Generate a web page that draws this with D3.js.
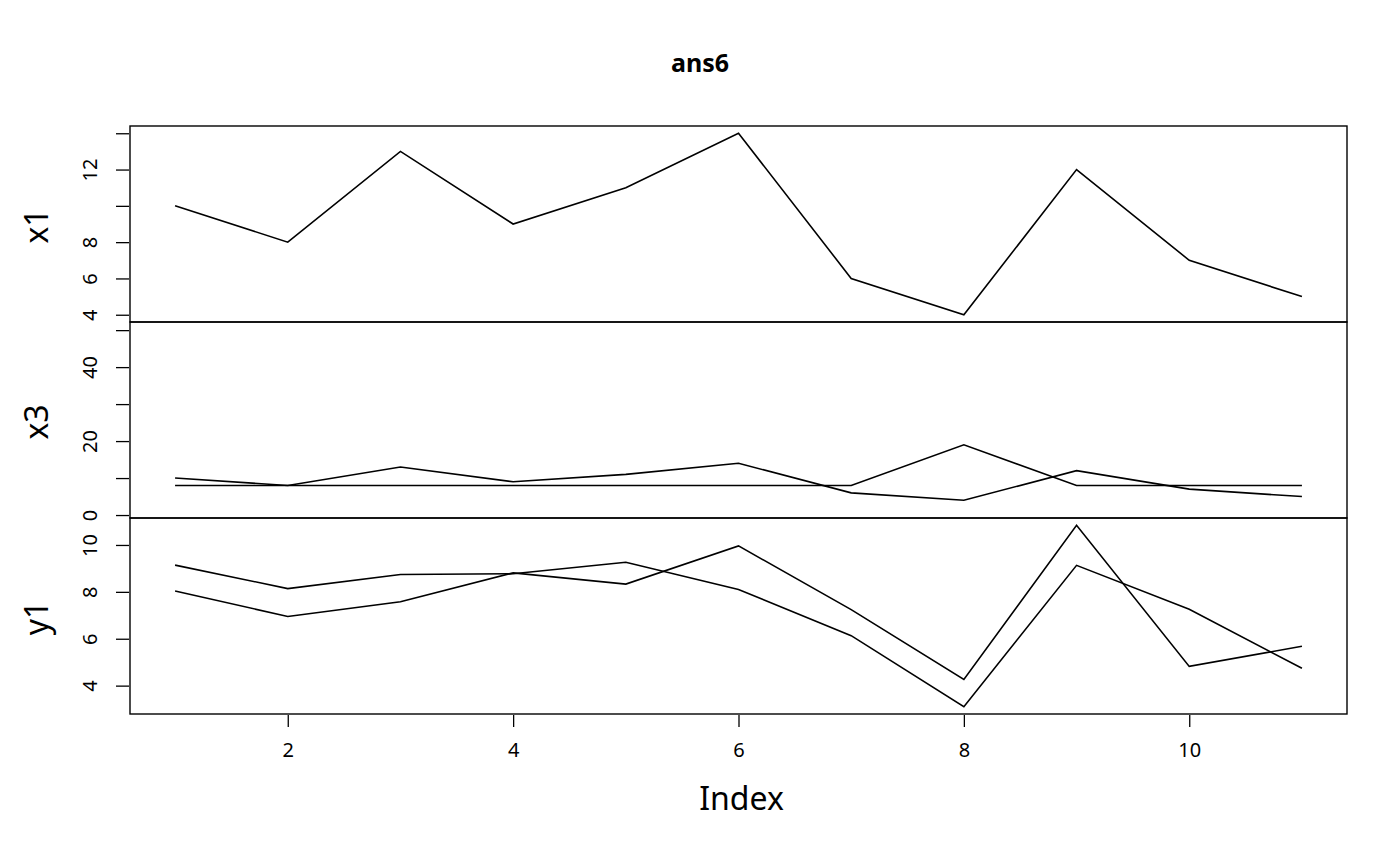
<!DOCTYPE html>
<html lang="en">
<head>
    <meta charset="UTF-8">
    <title>ans6</title>
    <script src="https://d3js.org/d3.v7.min.js"></script>
    <style>
        body { margin: 0; background: #fff; }
        text { font-family: "Noto Sans", "Open Sans", sans-serif; fill: #000; }
    </style>
</head>
<body>
<script>
    // anscombe columns
    var index = [1, 2, 3, 4, 5, 6, 7, 8, 9, 10, 11];
    var x1 = [10, 8, 13, 9, 11, 14, 6, 4, 12, 7, 5];
    var x3 = [10, 8, 13, 9, 11, 14, 6, 4, 12, 7, 5];
    var x4 = [8, 8, 8, 8, 8, 8, 8, 19, 8, 8, 8];
    var y1 = [8.04, 6.95, 7.58, 8.81, 8.33, 9.96, 7.24, 4.26, 10.84, 4.82, 5.68];
    var y2 = [9.14, 8.14, 8.74, 8.77, 9.26, 8.10, 6.13, 3.10, 9.13, 7.26, 4.74];
    var xTicks = [2, 4, 6, 8, 10];

    var panels = [
        { label: "x1", series: [x1], domain: [3.6, 14.4],
          ticks: [4, 6, 8, 10, 12, 14], shown: [4, 6, 8, 12] },
        { label: "x3", series: [x3, x4], domain: [-0.8, 52.2],
          ticks: [0, 10, 20, 30, 40, 50], shown: [0, 20, 40] },
        { label: "y1", series: [y1, y2], domain: [2.79, 11.15],
          ticks: [4, 6, 8, 10], shown: [4, 6, 8, 10] }
    ];

    var w = 1400, h = 866;
    var plotLeft = 130, plotRight = 1347, plotTop = 126, panelH = 196;

    var svg = d3.select("body").append("svg")
        .attr("width", w)
        .attr("height", h);

    var x = d3.scaleLinear()
        .domain([0.6, 11.4])
        .range([plotLeft, plotRight]);

    // title sits on the page centre, not the plot centre
    svg.append("text")
        .attr("x", w / 2)
        .attr("y", 72)
        .attr("text-anchor", "middle")
        .style("font-size", "25px")
        .style("font-weight", "bold")
        .text("ans6");

    var line = d3.line();

    panels.forEach(function(p, k) {
        var y0 = plotTop + k * panelH;
        var y = d3.scaleLinear().domain(p.domain).range([y0 + panelH, y0]);

        var ax = svg.append("g")
            .attr("transform", "translate(" + (plotLeft - 1) + ",0)")
            .call(d3.axisLeft(y).tickValues(p.ticks).tickSize(13)
                .tickFormat(function(d) { return p.shown.indexOf(d) >= 0 ? d : ""; }));
        ax.select(".domain").remove();
        ax.selectAll("line").attr("stroke", "#000").attr("stroke-width", 1.3);
        // R style: labels parallel to the axis
        ax.selectAll(".tick text")
            .style("font-size", "20px")
            .attr("text-anchor", "middle")
            .attr("x", 0)
            .attr("dy", "0.35em")
            .attr("transform", "translate(-39,0) rotate(-90)");

        svg.append("text")
            .attr("transform", "translate(48," + (y0 + panelH / 2 + 2) + ") rotate(-90)")
            .attr("text-anchor", "middle")
            .style("font-size", "32px")
            .text(p.label);

        p.series.forEach(function(s) {
            svg.append("path")
                .attr("d", line(s.map(function(v, i) { return [x(index[i]), y(v)]; })))
                .attr("fill", "none")
                .attr("stroke", "#000")
                .attr("stroke-width", 1.6);
        });

        svg.append("rect")
            .attr("x", plotLeft)
            .attr("y", y0)
            .attr("width", plotRight - plotLeft)
            .attr("height", panelH)
            .attr("fill", "none")
            .attr("stroke", "#000")
            .attr("stroke-width", 1.4);
    });

    var bottom = plotTop + 3 * panelH;
    var xa = svg.append("g")
        .attr("transform", "translate(0," + (bottom + 1) + ")")
        .call(d3.axisBottom(x).tickValues(xTicks).tickSize(12).tickPadding(16));
    xa.select(".domain").remove();
    xa.selectAll("line").attr("stroke", "#000").attr("stroke-width", 1.3);
    xa.selectAll("text").style("font-size", "20px");

    svg.append("text")
        .attr("x", (plotLeft + plotRight) / 2 + 3)
        .attr("y", 810)
        .attr("text-anchor", "middle")
        .style("font-size", "32px")
        .text("Index");
</script>
</body>
</html>
